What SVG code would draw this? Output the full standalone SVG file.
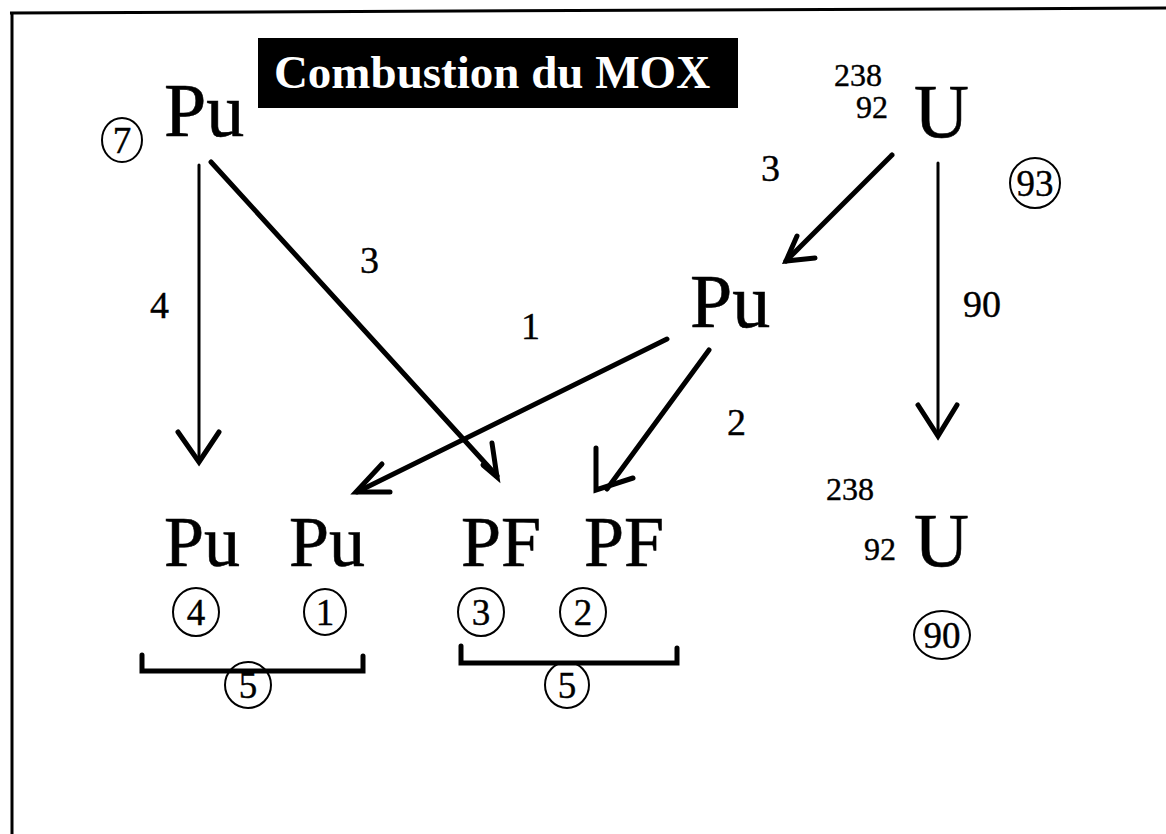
<svg xmlns="http://www.w3.org/2000/svg" width="1166" height="834" viewBox="0 0 1166 834">
<style>
.big{font-family:"Liberation Serif","Times New Roman",serif;font-size:76px;fill:#000;stroke:#000;stroke-width:0.6}
.bot{font-family:"Liberation Serif","Times New Roman",serif;font-size:72px;fill:#000;stroke:#000;stroke-width:0.6}
.lbl{font-family:"Liberation Serif","Times New Roman",serif;font-size:38px;fill:#000;stroke:#000;stroke-width:0.4}
.sm{font-family:"Liberation Serif","Times New Roman",serif;font-size:32px;fill:#000;stroke:#000;stroke-width:0.4}
.cn{font-family:"Liberation Serif","Times New Roman",serif;font-size:37px;fill:#000;text-anchor:middle;stroke:#000;stroke-width:0.4}
.ring{fill:none;stroke:#000;stroke-width:2}
.ln{fill:none;stroke:#000;stroke-width:3;stroke-linecap:round}
.thick{fill:none;stroke:#000;stroke-width:5;stroke-linecap:round}
.head{fill:none;stroke:#000;stroke-width:5;stroke-linecap:round;stroke-linejoin:miter}
</style>
<rect width="1166" height="834" fill="#fff"/>
<g id="frame">
<line x1="10" y1="13" x2="1166" y2="8" stroke="#000" stroke-width="3"/>
<line x1="12" y1="12" x2="12" y2="834" stroke="#000" stroke-width="3"/>
</g>
<g id="title">
<rect x="258" y="38" width="480" height="70" fill="#000"/>
<text x="492" y="88" text-anchor="middle" style="font-family:'Liberation Serif','Times New Roman',serif;font-size:47px;font-weight:bold;fill:#fff">Combustion du MOX</text>
</g>
<g id="pu-top">
<text class="big" x="164" y="136">Pu</text>
<ellipse class="ring" cx="122" cy="140" rx="20" ry="22"/>
<text class="cn" x="122" y="153">7</text>
</g>
<g id="u-top">
<text class="sm" x="834" y="86">238</text>
<text class="sm" x="856" y="118">92</text>
<text class="big" x="914" y="137">U</text>
<ellipse class="ring" cx="1035" cy="183" rx="25" ry="25"/>
<text class="cn" x="1035" y="196">93</text>
</g>
<g id="pu-mid">
<text class="big" x="690" y="327">Pu</text>
</g>
<g id="bottom">
<text class="bot" x="164" y="566">Pu</text>
<text class="bot" x="289" y="566">Pu</text>
<text class="bot" x="461" y="566">PF</text>
<text class="bot" x="584" y="566">PF</text>
<text class="sm" x="826" y="500">238</text>
<text class="sm" x="864" y="560">92</text>
<text class="big" x="914" y="566">U</text>
<ellipse class="ring" cx="196" cy="612" rx="23" ry="24"/>
<text class="cn" x="196" y="625">4</text>
<ellipse class="ring" cx="325" cy="612" rx="21" ry="23"/>
<text class="cn" x="325" y="625">1</text>
<ellipse class="ring" cx="481" cy="612" rx="23" ry="24"/>
<text class="cn" x="481" y="625">3</text>
<ellipse class="ring" cx="583" cy="612" rx="23" ry="24"/>
<text class="cn" x="583" y="625">2</text>
<ellipse class="ring" cx="942" cy="635" rx="28" ry="24"/>
<text class="cn" x="942" y="648">90</text>
<ellipse class="ring" cx="248" cy="685" rx="23" ry="23"/>
<text class="cn" x="248" y="698">5</text>
<ellipse class="ring" cx="567" cy="685" rx="22" ry="23"/>
<text class="cn" x="567" y="698">5</text>
<path class="thick" d="M142 655 V671 H363 V656"/>
<path class="thick" d="M461 646 V663 H677 V648"/>
</g>
<g id="connectors">
<line class="ln" x1="199" y1="165" x2="199" y2="460"/>
<path class="head" d="M178 432 L199 462 L219 432"/>
<line class="thick" x1="211" y1="162" x2="497" y2="476"/>
<path class="head" d="M483 465 L497 477 L492 443"/>
<line class="thick" x1="892" y1="155" x2="786" y2="261"/>
<path class="head" d="M797 236 L786 261 L815 258"/>
<line class="ln" x1="938" y1="163" x2="938" y2="434"/>
<path class="head" d="M918 405 L938 436 L957 405"/>
<line class="thick" x1="667" y1="339" x2="357" y2="492"/>
<path class="head" d="M382 464 L356 492 L390 492"/>
<line class="thick" x1="709" y1="350" x2="607" y2="489"/>
<path class="head" d="M596 448 V490 L633 478"/>
<text class="lbl" x="150" y="318">4</text>
<text class="lbl" x="360" y="273">3</text>
<text class="lbl" x="521" y="339">1</text>
<text class="lbl" x="727" y="435">2</text>
<text class="lbl" x="761" y="181">3</text>
<text class="lbl" x="963" y="317">90</text>
</g>
</svg>
